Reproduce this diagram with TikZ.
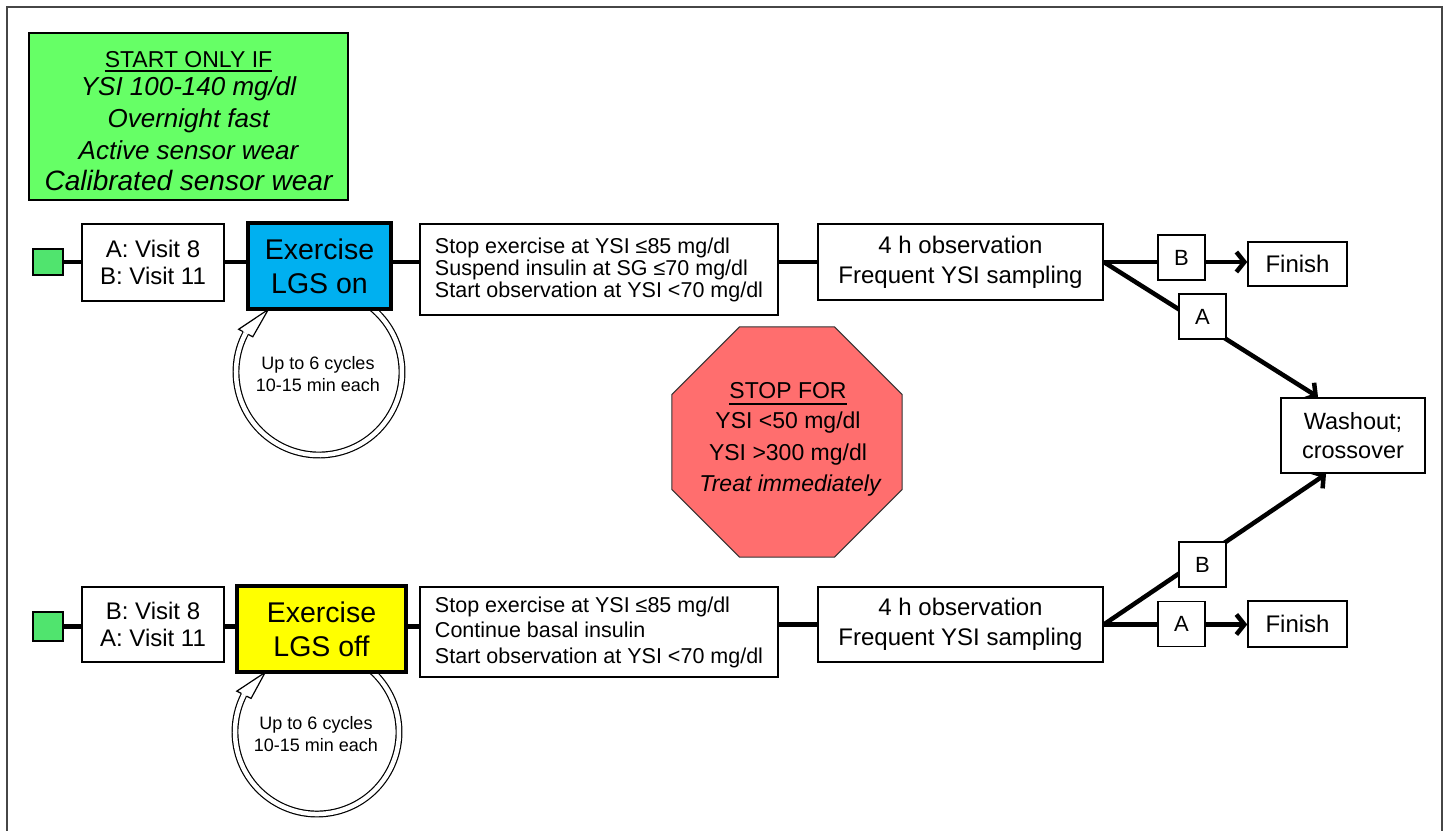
\documentclass[tikz,border=0pt]{standalone}
\usepackage{fontspec}
\setmainfont{Liberation Sans}
\usetikzlibrary{shapes.geometric,arrows.meta,backgrounds}
\definecolor{startgreen}{RGB}{102,255,102}
\definecolor{sqgreen}{RGB}{80,228,110}
\definecolor{exblue}{RGB}{0,176,240}
\definecolor{exyellow}{RGB}{255,255,0}
\definecolor{stopred}{RGB}{255,110,110}
\definecolor{framegray}{RGB}{70,70,70}
\newcommand{\fs}[2]{\fontsize{#1}{#2}\selectfont}
\begin{document}
\begin{tikzpicture}[x=1pt,y=-1pt,
  wbox/.style={draw=black, line width=1.5pt, fill=white, inner sep=0pt, align=center},
  sqbox/.style={draw=black, line width=1.5pt, fill=sqgreen, minimum width=30pt, inner sep=0pt},
  exbox/.style={wbox, line width=3.5pt, minimum height=86pt, font=\fs{28.5}{34}},
  conn/.style={line width=4.5pt, black},
  arr/.style={conn, -{Straight Barb[length=8pt, width=20pt]}},
  lbl/.style={wbox, minimum width=47pt, minimum height=45pt, font=\fs{22}{26}},
  txt/.style={inner sep=0pt, anchor=base},
  loopline/.style={double=white, double distance=4.5pt, line width=1.2pt},
  loophead/.style={fill=white, draw=black, line width=1.2pt, line join=miter}]
\useasboundingbox (0,0) rectangle (1447,830);

% start box
\node[wbox, fill=startgreen, minimum width=319pt, minimum height=167pt] (start) at (188.5,116.5) {};
\node[txt, font=\fs{23}{26}] (s1) at (188.5,67) {START ONLY IF};
\draw[line width=1.3pt] ([yshift=-4pt]s1.base west) -- ([yshift=-4pt]s1.base east);
\node[txt, font=\fs{26}{30}\itshape] (s2) at (188.5,95) {YSI 100-140 mg/dl};
\node[txt, font=\fs{26}{30}\itshape] (s3) at (188.5,127.5) {Overnight fast};
\node[txt, font=\fs{26}{30}\itshape] (s4) at (188.5,159.5) {Active sensor wear};
\node[txt, font=\fs{28}{32}\itshape] (s5) at (188.5,190) {Calibrated sensor wear};

% loops (arcs)
\coordinate (c1) at (319,372);
\coordinate (c2) at (317,732);

% row 1
\node[sqbox, minimum height=26pt] (sq1) at (48,262) {};
\node[wbox, minimum width=142pt, minimum height=77pt, font=\fs{24}{27.5}] (v1) at (153,262.5) {A: Visit 8\\B: Visit 11};
\node[exbox, fill=exblue, minimum width=143pt] (ex1) at (319.5,266) {Exercise\\LGS on};
\node[wbox, align=left, minimum width=358pt, minimum height=91pt, font=\fs{21.5}{22}] (st1) at (599,269.5) {Stop exercise at YSI ≤85 mg/dl\\Suspend insulin at SG ≤70 mg/dl\\Start observation at YSI <70 mg/dl};
\node[wbox, minimum width=285pt, minimum height=76pt, font=\fs{24}{30}] (h1) at (960.5,262) {4 h observation\\Frequent YSI sampling};
\node[lbl] (b1) at (1181.5,257.5) {B};
\node[wbox, minimum width=99pt, minimum height=44pt, font=\fs{24}{28}] (fin1) at (1297.5,264) {Finish};
\node[lbl] (a1) at (1202.5,316.5) {A};
\node[wbox, minimum width=144pt, minimum height=75pt, font=\fs{23.5}{29}] (wash) at (1353,435.5) {Washout;\\crossover};
\coordinate (w1) at (1318,397);
\coordinate (w2) at (1326,474);

% row 2
\node[sqbox, minimum height=29pt] (sq2) at (48,626.5) {};
\node[wbox, minimum width=142pt, minimum height=75pt, font=\fs{24}{27.5}] (v2) at (153,624.5) {B: Visit 8\\A: Visit 11};
\node[exbox, fill=exyellow, minimum width=169pt] (ex2) at (321.5,629) {Exercise\\LGS off};
\node[wbox, align=left, minimum width=358pt, minimum height=90pt, font=\fs{21.5}{25.5}] (st2) at (599,632) {Stop exercise at YSI ≤85 mg/dl\\Continue basal insulin\\Start observation at YSI <70 mg/dl};
\node[wbox, minimum width=285pt, minimum height=75pt, font=\fs{24}{30}] (h2) at (960.5,624.5) {4 h observation\\Frequent YSI sampling};
\node[lbl] (b2) at (1202.5,564.5) {B};
\node[lbl] (a2) at (1181.5,624) {A};
\node[wbox, minimum width=99pt, minimum height=46pt, font=\fs{24}{28}] (fin2) at (1297.5,624) {Finish};

% loop heads and texts
\filldraw[loophead] ([shift={(208:85.85)}]c1) -- ([shift={(208:91)}]c1) -- ([shift={(231:80.5)}]c1) -- ([shift={(208:75)}]c1) -- ([shift={(208:80.15)}]c1);
\filldraw[loophead] ([shift={(207:84.85)}]c2) -- ([shift={(207:90)}]c2) -- ([shift={(229:79)}]c2) -- ([shift={(207:74)}]c2) -- ([shift={(207:79.15)}]c2);
\node[inner sep=0pt, align=center, font=\fs{18}{22}] (l1) at (318,374.4) {Up to 6 cycles\\10-15 min each};
\node[inner sep=0pt, align=center, font=\fs{18}{22}] (l2) at (316,734.4) {Up to 6 cycles\\10-15 min each};

% stop octagon
\node[regular polygon, regular polygon sides=8, minimum size=249pt, inner sep=0pt, fill=stopred, draw=black!80, line width=1pt] (stop) at (787,442) {};
\node[txt, font=\fs{23}{27}] (o1) at (788,398) {STOP FOR};
\draw[line width=1.3pt] ([yshift=-6pt]o1.base west) -- ([yshift=-6pt]o1.base east);
\node[txt, font=\fs{23}{27}] (o2) at (788,428) {YSI <50 mg/dl};
\node[txt, font=\fs{23}{27}] (o3) at (788,460) {YSI >300 mg/dl};
\node[txt, font=\fs{23}{27}\itshape] (o4) at (790,491.5) {Treat immediately};

\begin{pgfonlayer}{background}
  \draw[framegray, line width=2pt] (7,840) -- (7,7) -- (1442,7) -- (1442,840);
  \draw[loopline] ([shift={(300:83)}]c1) arc[start angle=300, end angle=568, radius=83];
  \draw[loopline] ([shift={(300:82)}]c2) arc[start angle=300, end angle=567, radius=82];
  % row 1 connectors
  \draw[conn] (sq1.east) -- (sq1.east -| v1.west);
  \draw[conn] (v1.east |- sq1.east) -- (sq1.east -| ex1.west);
  \draw[conn] (ex1.east |- sq1.east) -- (sq1.east -| st1.west);
  \draw[conn] (st1.east |- h1.west) -- (h1.west);
  \draw[conn] (h1.east) -- (h1.east -| b1.west);
  \draw[arr] (b1.east |- h1.east) -- (h1.east -| fin1.west);
  \draw[arr] (h1.east) -- (w1);
  % row 2 connectors
  \draw[conn] (sq2.east) -- (sq2.east -| v2.west);
  \draw[conn] (v2.east |- sq2.east) -- (sq2.east -| ex2.west);
  \draw[conn] (ex2.east |- sq2.east) -- (sq2.east -| st2.west);
  \draw[conn] (st2.east |- h2.west) -- (h2.west);
  \draw[conn] (h2.east) -- (h2.east -| a2.west);
  \draw[arr] (a2.east |- h2.east) -- (h2.east -| fin2.west);
  \draw[arr] (h2.east) -- (w2);
\end{pgfonlayer}
\end{tikzpicture}
\end{document}
